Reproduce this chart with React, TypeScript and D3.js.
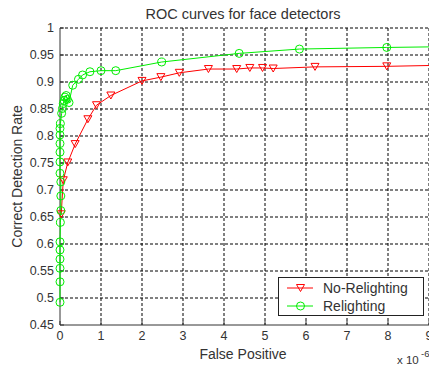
import React from 'react';
import * as d3 from 'd3';

const xTicks = [0, 1, 2, 3, 4, 5, 6, 7, 8, 9];
const yTicks = [0.45, 0.5, 0.55, 0.6, 0.65, 0.7, 0.75, 0.8, 0.85, 0.9, 0.95, 1];

// x values are in units of 1e-6
const noRelightX = [0.03, 0.08, 0.19, 0.37, 0.68, 0.89, 1.24, 2.0, 2.46, 2.91, 3.62, 4.31, 4.63, 4.94, 5.2, 6.22, 7.97, 10];
const noRelightY = [0.655, 0.718, 0.751, 0.785, 0.831, 0.857, 0.875, 0.902, 0.909, 0.917, 0.924, 0.924, 0.926, 0.926, 0.925, 0.928, 0.929, 0.932];

const relightX = [0, 0, 0, 0, 0, 0, 0.01, 0.02, 0.02, 0.02, 0, 0, 0, 0, 0, 0, 0.01, 0.04, 0.06, 0.08, 0.1, 0.12, 0.15, 0.18, 0.22, 0.31, 0.45, 0.55, 0.73, 1.0, 1.36, 2.48, 4.37, 5.84, 7.97, 10];
const relightY = [0.492, 0.53, 0.555, 0.572, 0.589, 0.604, 0.64, 0.662, 0.689, 0.715, 0.731, 0.752, 0.77, 0.786, 0.802, 0.814, 0.823, 0.842, 0.851, 0.86, 0.866, 0.872, 0.875, 0.868, 0.862, 0.894, 0.905, 0.913, 0.919, 0.921, 0.921, 0.937, 0.953, 0.961, 0.964, 0.966];

const W = 429;
const H = 369;
const left = 60, right = 429, top = 28, bottom = 325;
const font = '"Liberation Sans", Arial, sans-serif';
const RED = '#ff0000';
const GREEN = '#00ee00';

const x = d3.scaleLinear().domain([0, 9]).range([left, right]);
const y = d3.scaleLinear().domain([0.45, 1]).range([bottom, top]);

const tri = (cx: number, cy: number) =>
  `M${cx - 4},${cy - 3.5}L${cx + 4},${cy - 3.5}L${cx},${cy + 3.5}Z`;

const App: React.FC = () => {
  const red = noRelightX.map((v, i) => [v, noRelightY[i]] as [number, number]);
  const green = relightX.map((v, i) => [v, relightY[i]] as [number, number]);
  const line = d3.line<[number, number]>().x((d) => x(d[0])).y((d) => y(d[1]));

  return (
    <svg width={W} height={H} style={{ position: 'absolute', left: 0, top: 0, background: '#fff' }}>
      <defs>
        <clipPath id="plot">
          <rect x={left - 6} y={top - 6} width={right - left + 6} height={bottom - top + 12} />
        </clipPath>
      </defs>

      {/* grid */}
      {xTicks.slice(1).map((t) => (
        <line key={'gx' + t} x1={x(t)} x2={x(t)} y1={top} y2={bottom} stroke="#000" strokeDasharray="3,2" strokeWidth={1} />
      ))}
      {yTicks.slice(1).map((t) => (
        <line key={'gy' + t} x1={left} x2={right} y1={y(t)} y2={y(t)} stroke="#000" strokeDasharray="3,2" strokeWidth={1} />
      ))}

      {/* axes */}
      <line x1={left} x2={left} y1={top} y2={bottom} stroke="#333" />
      <line x1={left} x2={right} y1={bottom} y2={bottom} stroke="#333" />
      {xTicks.map((t) => (
        <g key={'tx' + t}>
          <line x1={x(t)} x2={x(t)} y1={bottom} y2={bottom - 4} stroke="#333" />
          <text x={x(t)} y={bottom + 15} textAnchor="middle" fontFamily={font} fontSize={12.5} fill="#333">{t}</text>
        </g>
      ))}
      {yTicks.map((t) => (
        <g key={'ty' + t}>
          <line x1={left} x2={left + 4} y1={y(t)} y2={y(t)} stroke="#333" />
          <text x={left - 6} y={y(t) + 4} textAnchor="end" fontFamily={font} fontSize={12.5} fill="#333">{String(t)}</text>
        </g>
      ))}

      {/* series */}
      <g clipPath="url(#plot)">
        <path d={line(red) || ''} fill="none" stroke={RED} strokeWidth={1} />
        <path d={line(green) || ''} fill="none" stroke={GREEN} strokeWidth={1} />
        {red.map((d, i) => (
          <path key={'r' + i} d={tri(x(d[0]), y(d[1]))} fill="none" stroke={RED} strokeWidth={1} />
        ))}
        {green.map((d, i) => (
          <circle key={'g' + i} cx={x(d[0])} cy={y(d[1])} r={4} fill="none" stroke={GREEN} strokeWidth={1} />
        ))}
      </g>

      {/* titles */}
      <text x={243} y={19} textAnchor="middle" fontFamily={font} fontSize={14.5} fill="#333">ROC curves for face detectors</text>
      <text x={243} y={359} textAnchor="middle" fontFamily={font} fontSize={14} fill="#333">False Positive</text>
      <text transform={`translate(22,${(top + bottom) / 2}) rotate(-90)`} textAnchor="middle" fontFamily={font} fontSize={14} fill="#333">Correct Detection Rate</text>
      <text x={397} y={364} fontFamily={font} fontSize={11.5} fill="#333">x 10</text>
      <text x={421} y={357} fontFamily={font} fontSize={9.5} fill="#333">-6</text>

      {/* legend */}
      <rect x={278.5} y={277.5} width={145} height={38} fill="#fff" stroke="#222" />
      <line x1={287} x2={313} y1={288} y2={288} stroke={RED} />
      <path d={tri(300.5, 288)} fill="none" stroke={RED} />
      <text x={323} y={293} fontFamily={font} fontSize={14} fill="#333">No-Relighting</text>
      <line x1={287} x2={313} y1={306} y2={306} stroke={GREEN} />
      <circle cx={300.5} cy={306} r={4} fill="none" stroke={GREEN} />
      <text x={323} y={311} fontFamily={font} fontSize={14} fill="#333">Relighting</text>
    </svg>
  );
};

export default App;
